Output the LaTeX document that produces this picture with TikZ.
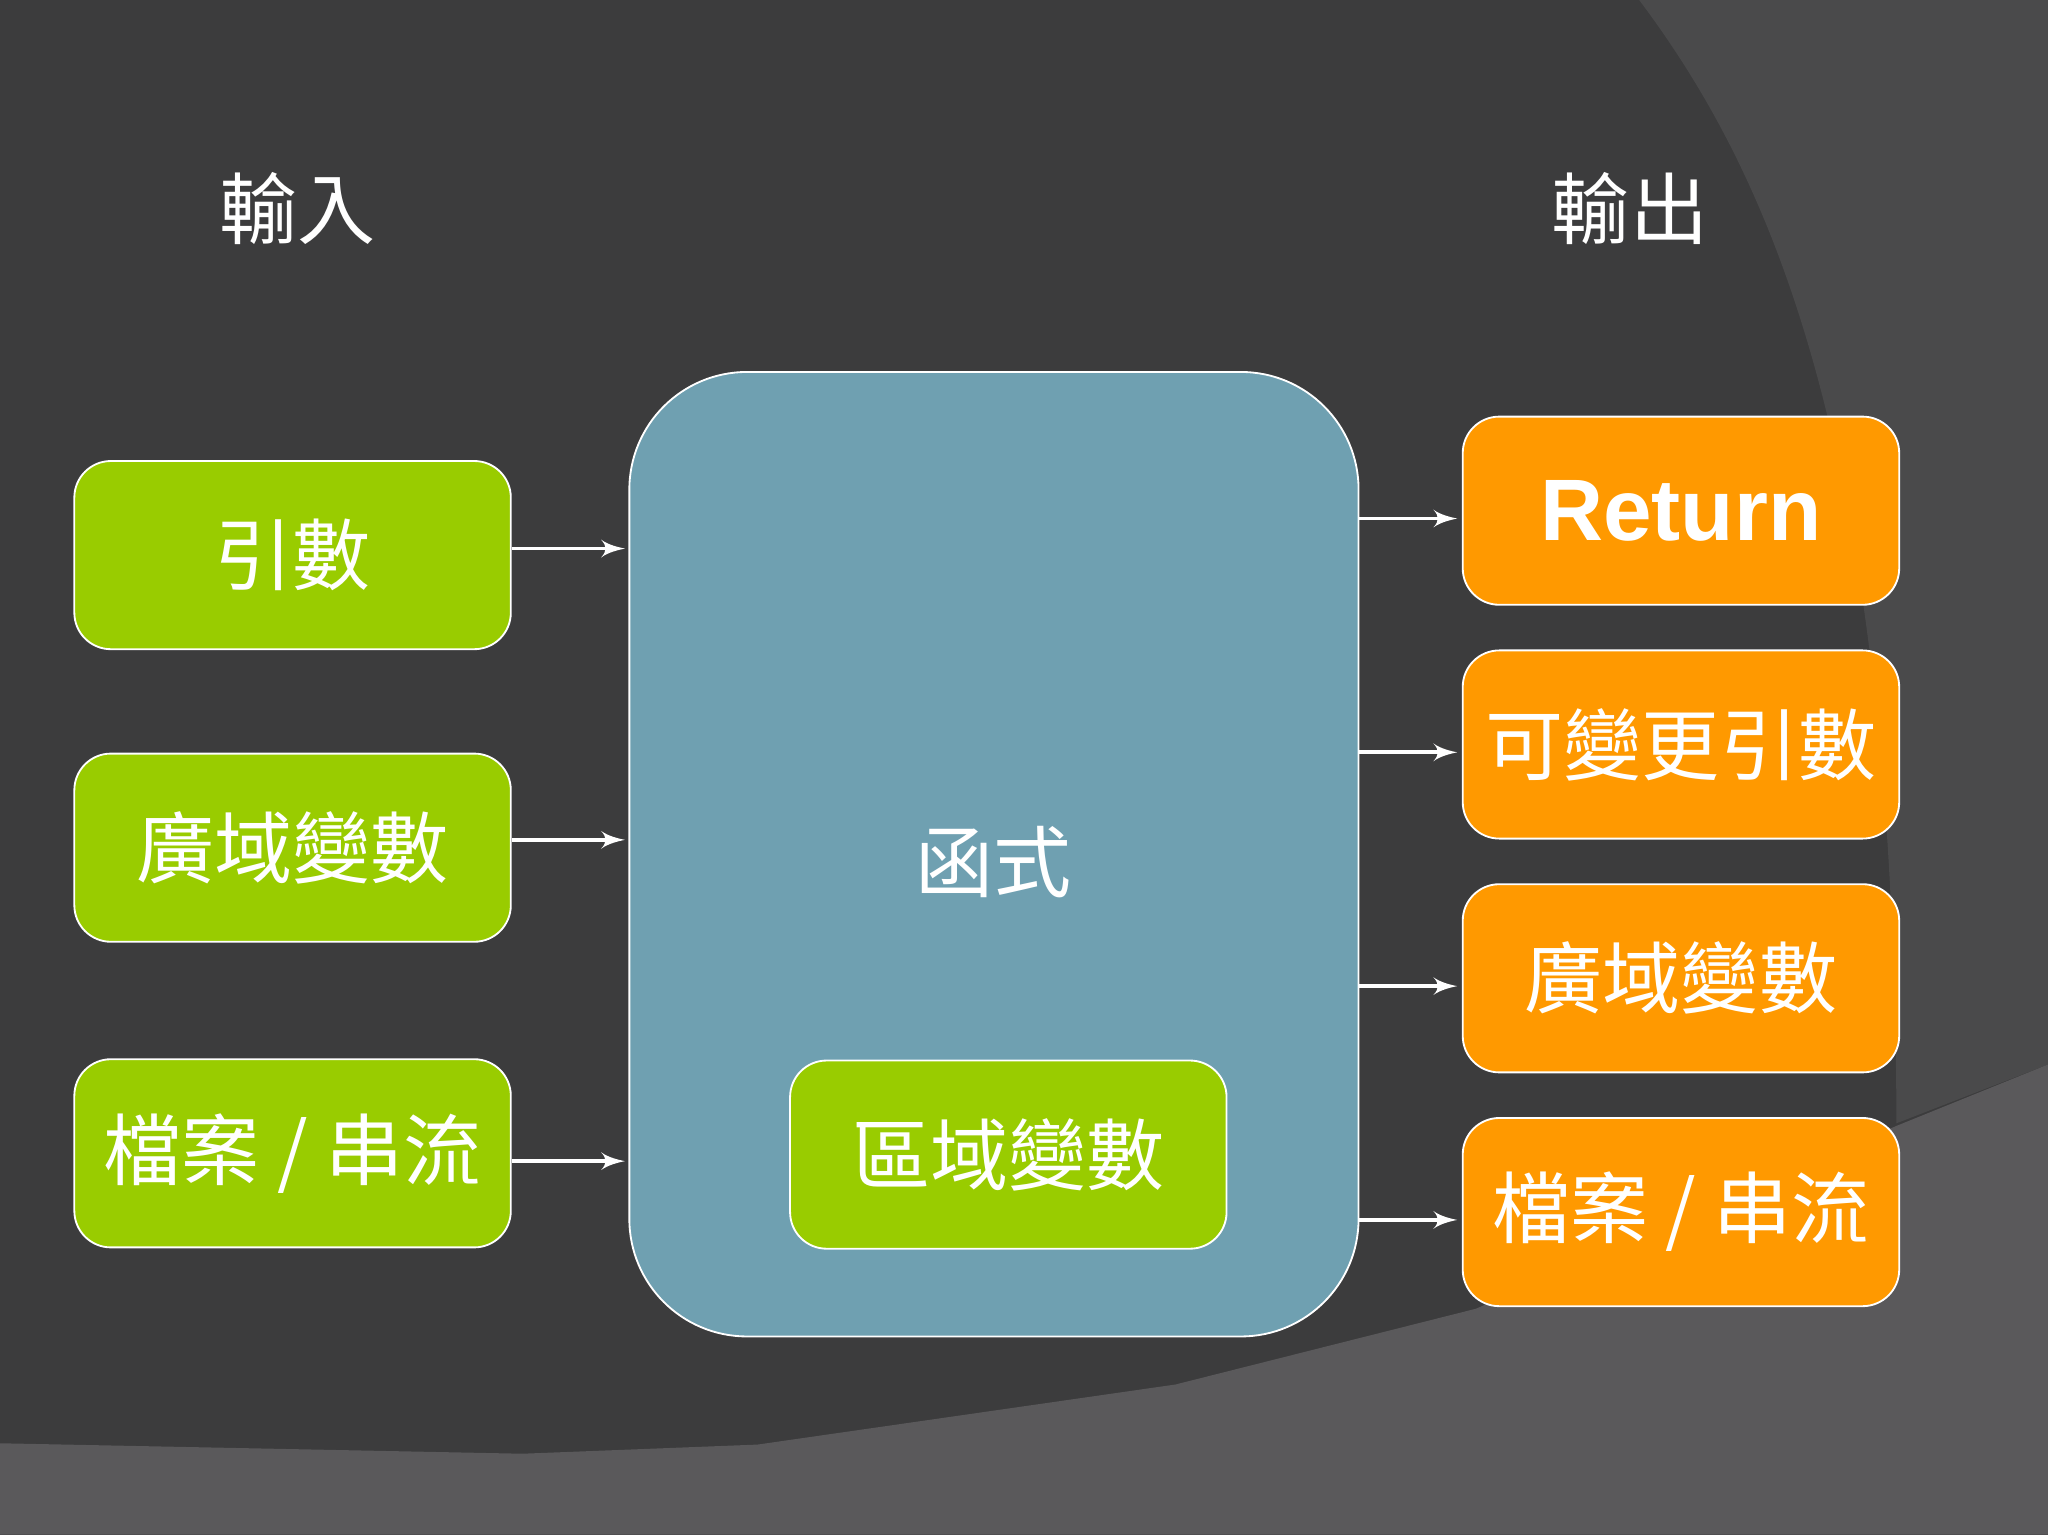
\documentclass[tikz,border=0pt]{standalone}
\usepackage{fontspec}
\setmainfont{Noto Sans CJK TC}
\newfontfamily\latinbf{Liberation Sans}
\usetikzlibrary{arrows,positioning}
\definecolor{bgdark}{HTML}{3C3C3D}
\definecolor{bgmid}{HTML}{4A4A4B}
\definecolor{bglight}{HTML}{5A595B}
\definecolor{ingreen}{HTML}{99CC00}
\definecolor{outorange}{HTML}{FF9900}
\definecolor{funcblue}{HTML}{6FA0B1}
\tikzset{
  inbox/.style={draw=white,fill=ingreen,rounded corners=0.28cm,minimum width=3.34cm,minimum height=1.44cm,text=white,font=\fontsize{17}{17}\selectfont,inner sep=0pt},
  outbox/.style={inbox,fill=outorange},
  flow/.style={->,>=latex',draw=white,thick,shorten >=1pt}
}
\begin{document}
\begin{tikzpicture}[x=0.01cm,y=-0.01cm]
  % background
  \fill[bgdark] (0,0) rectangle (1568,1175);
  \fill[bgmid] (1255,0) .. controls (1360,140) and (1450,350) .. (1452,860) -- (1568,815) -- (1568,0) -- cycle;
  \fill[bglight] (0,1105) -- (400,1113) -- (580,1106) -- (900,1060) -- (1130,1002) -- (1452,862) -- (1568,815) -- (1568,1175) -- (0,1175) -- cycle;
  \useasboundingbox (0,0) rectangle (1568,1175);

  % titles
  \node (tin) [text=white,font=\fontsize{17}{17}\selectfont] at (228,160) {輸入};
  \node (tout) [text=white,font=\fontsize{17}{17}\selectfont] at (1248,160) {輸出};

  % function block
  \node (func) [draw=white,fill=funcblue,rounded corners=0.9cm,minimum width=5.58cm,minimum height=7.38cm] at (761,654) {};
  \node (fname) [text=white,font=\fontsize{17}{17}\selectfont] at (761,660) {函式};
  \node (local) [inbox] at (772,884) {區域變數};

  % inputs
  \node (arg) [inbox] at (224,425) {引數};
  \node (glob) [inbox] at (224,649) {廣域變數};
  \node (fin) [inbox] at (224,883) {檔案 / 串流};
  \coordinate (a1) at (482,420);
  \coordinate (a2) at (482,643);
  \coordinate (a3) at (482,889);
  \draw[flow] (arg.east |- a1) -- (a1);
  \draw[flow] (glob.east |- a2) -- (a2);
  \draw[flow] (fin.east |- a3) -- (a3);

  % outputs
  \node (ret) [outbox,font=\latinbf\bfseries\fontsize{19}{19}\selectfont] at (1287,391) {Return};
  \node (mod) [outbox] at (1287,570) {可變更引數};
  \node (gout) [outbox] at (1287,749) {廣域變數};
  \node (fout) [outbox] at (1287,928) {檔案 / 串流};
  \coordinate (b1) at (1040,397);
  \coordinate (b2) at (1040,576);
  \coordinate (b3) at (1040,755);
  \coordinate (b4) at (1040,934);
  \draw[flow] (b1) -- (ret.west |- b1);
  \draw[flow] (b2) -- (mod.west |- b2);
  \draw[flow] (b3) -- (gout.west |- b3);
  \draw[flow] (b4) -- (fout.west |- b4);
\end{tikzpicture}
\end{document}
